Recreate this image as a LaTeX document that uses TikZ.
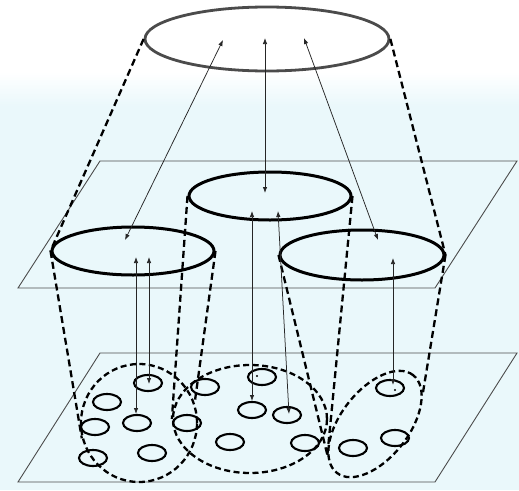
\documentclass[tikz,border=0pt]{standalone}
\usetikzlibrary{shapes.geometric,arrows.meta}
\definecolor{bgc}{RGB}{234,248,251}
\definecolor{topgray}{RGB}{75,75,75}
\begin{document}
\begin{tikzpicture}[x=1pt,y=-1pt,
  plane/.style={draw=black!70,line width=0.9pt},
  topell/.style={ellipse,draw=topgray,line width=2.8pt,inner sep=0pt,minimum width=244pt,minimum height=64pt},
  midell/.style={ellipse,draw=black,line width=3pt,inner sep=0pt,minimum width=162pt,minimum height=48pt},
  grpell/.style={ellipse,draw=black,line width=2.3pt,dash pattern=on 6pt off 3.5pt,inner sep=0pt},
  pt/.style={ellipse,draw=black,line width=2.1pt,inner sep=0pt,minimum width=28pt,minimum height=16pt},
  cone/.style={draw=black,line width=2.3pt,dash pattern=on 7pt off 4pt},
  link/.style={draw=black!85,line width=0.75pt,{Latex[length=6pt,width=4.5pt]}-{Latex[length=6pt,width=4.5pt]}},
  speck/.style={circle,fill=black,inner sep=0pt,minimum size=2.2pt},
]
\useasboundingbox (0,0) rectangle (519,490);
% background
\fill[white] (0,0) rectangle (519,490);
\shade[top color=white,bottom color=bgc] (0,72) rectangle (519,106);
\fill[bgc] (0,105.5) rectangle (519,490);

% planes
\draw[plane] (100,161) -- (517,161) -- (435,288) -- (18,288) -- cycle;
\draw[plane] (100,353) -- (517,353) -- (435,482) -- (18,482) -- cycle;

% top ellipse
\node[topell] (T) at (267,39) {};

% middle ellipses
\node[midell] (L) at (133,251) {};
\node[midell] (C) at (270,196) {};
\node[midell,minimum width=164pt,minimum height=50pt] (R) at (362,255) {};

% bottom group ellipses
\node[grpell,minimum width=116pt,minimum height=118pt] (DL) at (139,423) {};
\node[grpell,minimum width=154pt,minimum height=108pt] (DC) at (250,419) {};
\node[grpell,minimum width=124pt,minimum height=68pt,rotate=52] (DR) at (375,424) {};

% small ellipses
\node[pt] (p1) at (148,383) {};
\node[pt] (p2) at (107,402) {};
\node[pt] (p3) at (95,427) {};
\node[pt] (p4) at (137,423) {};
\node[pt] (p5) at (187,423) {};
\node[pt] (p6) at (93,458) {};
\node[pt] (p7) at (152,453) {};
\node[pt] (p8) at (205,387) {};
\node[pt] (p9) at (262,377) {};
\node[pt] (p10) at (252,410) {};
\node[pt] (p11) at (287,415) {};
\node[pt] (p12) at (230,442) {};
\node[pt] (p13) at (305,443) {};
\node[pt] (p14) at (390,388) {};
\node[pt] (p15) at (395,438) {};
\node[pt] (p16) at (353,448) {};
\node[speck] (s1) at (257,376) {};
\node[speck] (s2) at (395,390) {};

% cone edges
\draw[cone] (T.west) -- (L.west);
\draw[cone] (T.east) -- (R.east);
\draw[cone] (L.west) -- (DL.195);
\draw[cone] (L.east) -- (DL.20);
\draw[cone] (C.west) -- (DC.west);
\draw[cone] (C.east) -- (DR.161);
\draw[cone] (R.west) -- (DR.161);
\draw[cone] (R.east) -- (DR.340);

% arrow end points
\coordinate (t1) at (223,40);
\coordinate (t2) at (265,38);
\coordinate (t3) at (304,38);
\coordinate (l1) at (125,240);
\coordinate (c1) at (265,193);
\coordinate (r1) at (378,240);
\coordinate (l2) at (136,257);
\coordinate (l3) at (149,257);
\coordinate (c2) at (252,211);
\coordinate (c3) at (278,211);
\coordinate (r2) at (393,258);
\coordinate (b4) at (136,414);
\coordinate (b1) at (149,384);
\coordinate (b10) at (252,401);
\coordinate (b11) at (289,414);
\coordinate (b14) at (393,385);

% arrows
\draw[link] (t1) -- (l1);
\draw[link] (t2) -- (c1);
\draw[link] (t3) -- (r1);
\draw[link] (l2) -- (b4);
\draw[link] (l3) -- (b1);
\draw[link] (c2) -- (b10);
\draw[link] (c3) -- (b11);
\draw[link] (r2) -- (b14);
\end{tikzpicture}
\end{document}
